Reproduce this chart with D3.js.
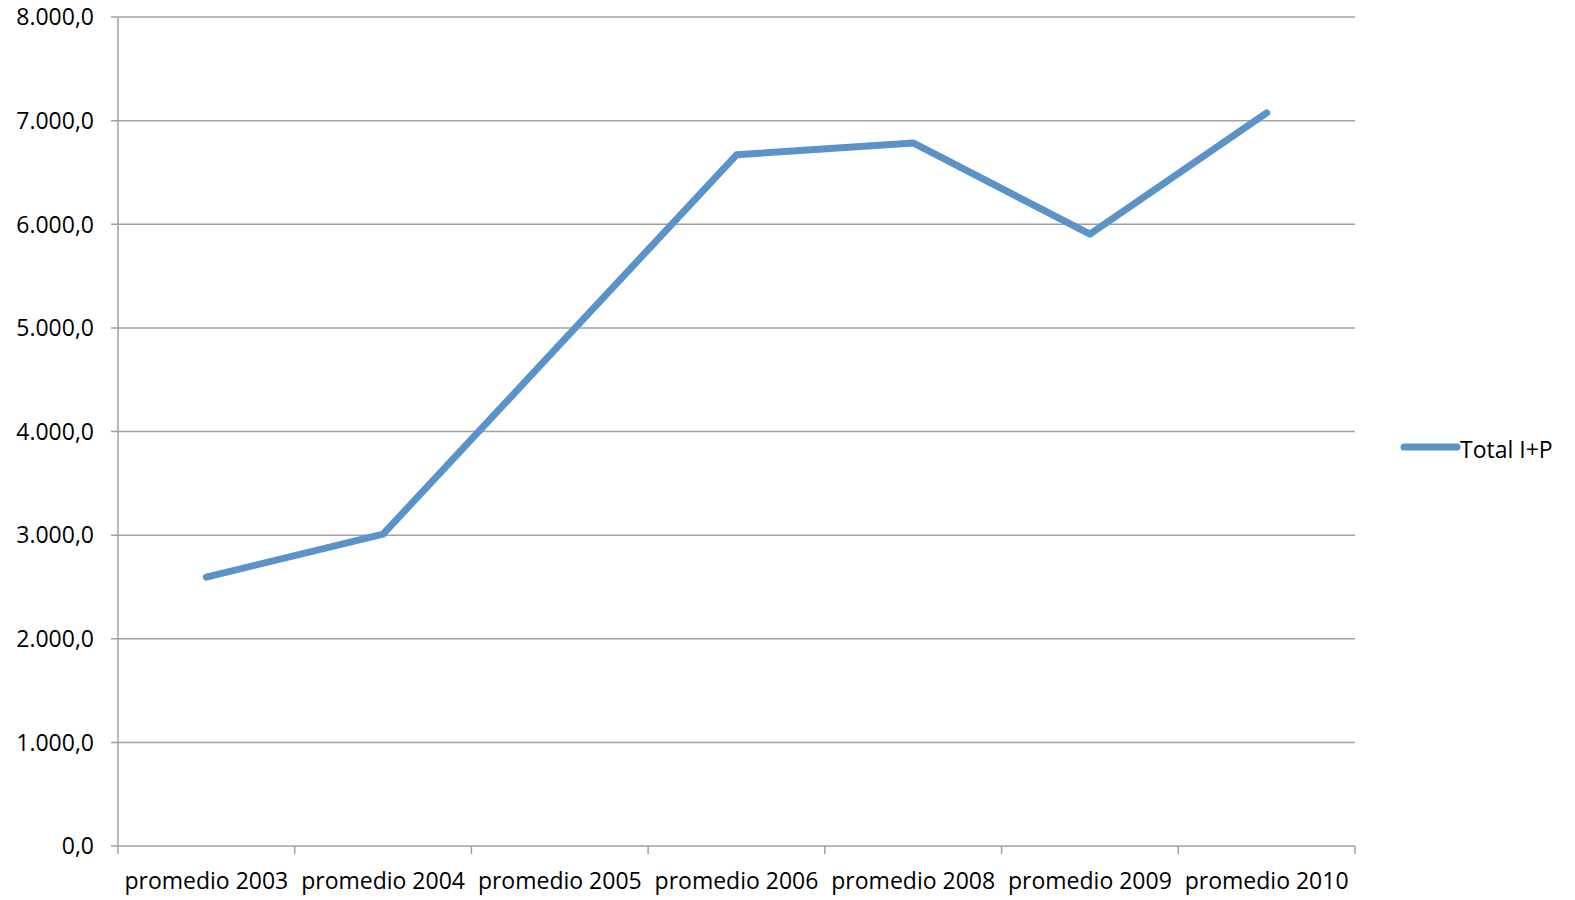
<!DOCTYPE html>
<html><head><meta charset="utf-8">
<script src="https://cdn.jsdelivr.net/npm/d3@7"></script>
<style>body{margin:0;background:#fff}svg{display:block}</style>
</head><body>
<svg id="c" width="1575" height="900"></svg>
<script>
const categories = ["promedio 2003","promedio 2004","promedio 2005","promedio 2006","promedio 2008","promedio 2009","promedio 2010"];
const values = [2595, 3010, 4840, 6670, 6785, 5905, 7075];
const yTicks = [0,1000,2000,3000,4000,5000,6000,7000,8000];
const seriesName = "Total I+P";

const svg = d3.select("#c");
const L = 118, R = 1355, T = 17, B = 846;
const font = "'Open Sans', sans-serif";
const x = d3.scaleBand().domain(categories).range([L, R]);
const y = d3.scaleLinear().domain([0, 8000]).range([B, T]);
const fmt = v => d3.format(",.1f")(v).replace(/,/g,"#").replace(".",",").replace(/#/g,".");

// gridlines
svg.append("g").selectAll("line").data(yTicks).join("line")
  .attr("x1", L - 7).attr("x2", R).attr("y1", d => y(d)).attr("y2", d => y(d))
  .attr("stroke", "#a0a0a0").attr("stroke-width", 1.5);

// y axis line
svg.append("line").attr("x1", L).attr("x2", L).attr("y1", T).attr("y2", B)
  .attr("stroke", "#a0a0a0").attr("stroke-width", 1.5);

// y labels
svg.append("g").selectAll("text").data(yTicks).join("text")
  .attr("x", 94).attr("y", d => y(d)).attr("dy", "0.36em")
  .attr("text-anchor", "end").attr("font-family", font).attr("font-size", 23)
  .attr("fill", "#000").text(d => fmt(d));

// x ticks
const xt = categories.map(c => x(c)).concat([R]);
svg.append("g").selectAll("line").data(xt).join("line")
  .attr("x1", d => d).attr("x2", d => d).attr("y1", B).attr("y2", B + 8)
  .attr("stroke", "#a0a0a0").attr("stroke-width", 1.5);

svg.append("g").selectAll("text").data(categories).join("text")
  .attr("x", d => x(d) + x.bandwidth()/2).attr("y", 881).attr("dy", "0.36em")
  .attr("text-anchor", "middle").attr("font-family", font).attr("font-size", 23)
  .attr("fill", "#000").text(d => d);

// line
const line = d3.line().x((d,i) => x(categories[i]) + x.bandwidth()/2).y(d => y(d));
svg.append("path").datum(values).attr("d", line)
  .attr("fill", "none").attr("stroke", "#5b93c9").attr("stroke-width", 7)
  .attr("stroke-linejoin", "round").attr("stroke-linecap", "round");

// legend
svg.append("line").attr("x1", 1404).attr("x2", 1457).attr("y1", 447).attr("y2", 447)
  .attr("stroke", "#5b93c9").attr("stroke-width", 7).attr("stroke-linecap", "round");
svg.append("text").attr("x", 1460).attr("y", 450).attr("dy", "0.36em")
  .attr("font-family", font).attr("font-size", 23).attr("fill", "#000").text(seriesName);
</script>
</body></html>
